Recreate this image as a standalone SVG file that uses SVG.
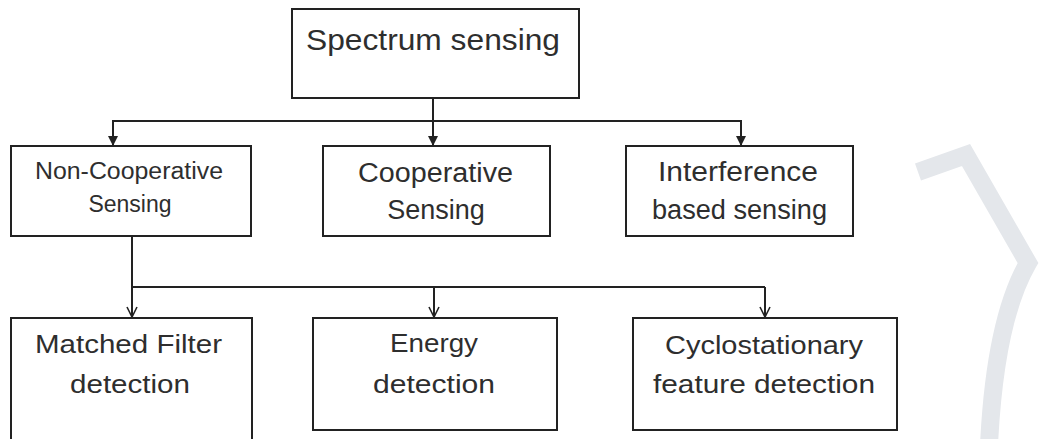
<svg xmlns="http://www.w3.org/2000/svg" width="1039" height="439" viewBox="0 0 1039 439">
<style>
.box{fill:#fff;stroke:#222;stroke-width:2}
.ln{fill:none;stroke:#222;stroke-width:2}
text{font-family:"Liberation Sans",Arial,sans-serif;fill:#2e2e2e;text-anchor:middle}
.t1{font-size:30px}
.t2{font-size:27px}
.t3{font-size:23px}
.t4{font-size:26px}
</style>
<defs>
<marker id="fa" markerWidth="10" markerHeight="10" refX="9" refY="5" orient="auto" markerUnits="userSpaceOnUse">
<path d="M0,0 L10,5 L0,10 Z" fill="#222"/>
</marker>
<marker id="oa" markerWidth="12" markerHeight="12" refX="11" refY="6" orient="auto" markerUnits="userSpaceOnUse">
<path d="M1,1 L11,6 L1,11" fill="none" stroke="#222" stroke-width="1.6"/>
</marker>
</defs>
<rect width="1039" height="439" fill="#fff"/>
<path d="M918,172 L966,155 L1028,263 Q995,320 989,445" fill="none" stroke="#e4e7eb" stroke-width="18"/>
<g id="connectors">
<line class="ln" x1="433" y1="98" x2="433" y2="145" marker-end="url(#fa)"/>
<polyline class="ln" points="113,145 113,121 741,121 741,145" marker-end="url(#fa)"/>
<line class="ln" x1="113" y1="121" x2="113" y2="145" marker-end="url(#fa)"/>
<line class="ln" x1="132" y1="236" x2="132" y2="317" marker-end="url(#oa)"/>
<line class="ln" x1="132" y1="287" x2="765" y2="287"/>
<line class="ln" x1="434" y1="287" x2="434" y2="317" marker-end="url(#oa)"/>
<line class="ln" x1="765" y1="287" x2="765" y2="317" marker-end="url(#oa)"/>
</g>
<g id="spectrum">
<rect class="box" x="292" y="9" width="287" height="89"/>
<text class="t1" x="433" y="50" textLength="254" lengthAdjust="spacingAndGlyphs">Spectrum sensing</text>
</g>
<g id="noncoop">
<rect class="box" x="11" y="146" width="240" height="90"/>
<text class="t3" x="129" y="179" textLength="188" lengthAdjust="spacingAndGlyphs">Non-Cooperative</text>
<text class="t3" x="130" y="212">Sensing</text>
</g>
<g id="coop">
<rect class="box" x="323" y="146" width="227" height="90"/>
<text class="t2" x="435.5" y="182" textLength="155" lengthAdjust="spacingAndGlyphs">Cooperative</text>
<text class="t2" x="436" y="219">Sensing</text>
</g>
<g id="interference">
<rect class="box" x="626" y="146" width="227" height="90"/>
<text class="t2" x="738" y="181" textLength="160" lengthAdjust="spacingAndGlyphs">Interference</text>
<text class="t2" x="739.5" y="219" textLength="175" lengthAdjust="spacingAndGlyphs">based sensing</text>
</g>
<g id="matched">
<path class="box" d="M11,445 L11,318 L252,318 L252,445"/>
<text class="t4" x="128.5" y="353" textLength="187" lengthAdjust="spacingAndGlyphs">Matched Filter</text>
<text class="t4" x="130" y="393" textLength="120" lengthAdjust="spacingAndGlyphs">detection</text>
</g>
<g id="energy">
<rect class="box" x="313" y="318" width="244" height="112"/>
<text class="t4" x="434" y="352" textLength="88" lengthAdjust="spacingAndGlyphs">Energy</text>
<text class="t4" x="434" y="393" textLength="122" lengthAdjust="spacingAndGlyphs">detection</text>
</g>
<g id="cyclo">
<rect class="box" x="633" y="318" width="264" height="112"/>
<text class="t4" x="764" y="354" textLength="198" lengthAdjust="spacingAndGlyphs">Cyclostationary</text>
<text class="t4" x="764" y="393" textLength="222" lengthAdjust="spacingAndGlyphs">feature detection</text>
</g>
</svg>
